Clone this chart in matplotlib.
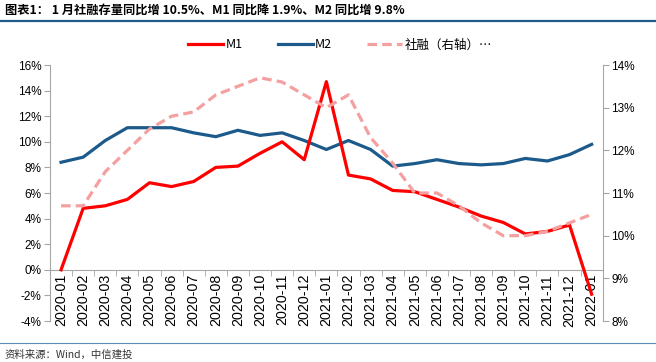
import numpy as np
import matplotlib
matplotlib.use('Agg')
import matplotlib.pyplot as plt
from matplotlib.lines import Line2D

plt.rcParams['font.family'] = ['Liberation Sans', 'Noto Sans CJK SC', 'DejaVu Sans']

months = ['2020-01', '2020-02', '2020-03', '2020-04', '2020-05', '2020-06',
          '2020-07', '2020-08', '2020-09', '2020-10', '2020-11', '2020-12',
          '2021-01', '2021-02', '2021-03', '2021-04', '2021-05', '2021-06',
          '2021-07', '2021-08', '2021-09', '2021-10', '2021-11', '2021-12',
          '2022-01']
m1 = [0.0, 4.8, 5.0, 5.5, 6.8, 6.5, 6.9, 8.0, 8.1, 9.1, 10.0, 8.6,
      14.7, 7.4, 7.1, 6.2, 6.1, 5.5, 4.9, 4.2, 3.7, 2.8, 3.0, 3.5, -1.9]
m2 = [8.4, 8.8, 10.1, 11.1, 11.1, 11.1, 10.7, 10.4, 10.9, 10.5, 10.7, 10.1,
      9.4, 10.1, 9.4, 8.1, 8.3, 8.6, 8.3, 8.2, 8.3, 8.7, 8.5, 9.0, 9.8]
tsf = [10.7, 10.7, 11.5, 12.0, 12.5, 12.8, 12.9, 13.3, 13.5, 13.7, 13.6, 13.3,
       13.0, 13.3, 12.3, 11.7, 11.0, 11.0, 10.7, 10.3, 10.0, 10.0, 10.1, 10.3, 10.5]

c_m1 = '#FF0000'
c_m2 = '#1B5A8A'
c_tsf = '#F4A0A0'
grey = '#A6A6A6'

fig = plt.figure(figsize=(6.56, 3.62), dpi=100)
ax = fig.add_axes([50/656, 1-321/362, (602.7-50)/656, (321-65)/362])
ax2 = ax.twinx()

# spines first (set_position resets tick styling)
for a in (ax, ax2):
    a.spines['top'].set_visible(False)
    for s in a.spines.values():
        s.set_color(grey)
ax.spines['right'].set_visible(False)
ax.spines['bottom'].set_position(('data', 0))
ax2.spines['left'].set_visible(False)
ax2.spines['bottom'].set_visible(False)
ax.patch.set_visible(False)

x = np.arange(len(months))
ax.plot(x, m1, color=c_m1, lw=2.3, zorder=3)
ax.plot(x, m2, color=c_m2, lw=2.3, zorder=2.5)
ax2.plot(x, tsf, color=c_tsf, lw=2.3, ls=(0, (3, 1.6)))

ax.set_xlim(-0.5, len(months) - 0.5)
ax.set_ylim(-4, 16)
ax.set_yticks(np.arange(-4, 17, 2))
ax.set_yticklabels(['%d%%' % v for v in range(-4, 17, 2)], fontsize=8.5)
ax2.set_ylim(8, 14)
ax2.set_yticks(np.arange(8, 15, 1))
ax2.set_yticklabels(['%d%%' % v for v in range(8, 15)], fontsize=8.5)

ax.set_xticks(x)
ax.set_xticks(np.arange(-0.5, len(months), 1), minor=True)
ax.set_xticklabels(months, rotation=90, fontsize=10.3)
ax.tick_params(axis='x', which='major', length=0, pad=3)
ax.tick_params(axis='x', which='minor', length=4, color=grey, direction='out')
ax.tick_params(axis='y', length=4, color=grey, pad=2)
ax2.tick_params(axis='y', length=4, color=grey, pad=2)

handles = [Line2D([], [], color=c_m1, lw=2.3),
           Line2D([], [], color=c_m2, lw=2.3),
           Line2D([], [], color=c_tsf, lw=2.3, ls=(0, (3, 1.6)))]
fig.legend(handles, ['M1', 'M2', '社融（右轴）…'], loc='center', ncol=3,
           bbox_to_anchor=(340/656, 1-45/362), frameon=False,
           prop={'family': ['Noto Sans CJK SC', 'DejaVu Sans'], 'size': 9},
           handlelength=2.8, handletextpad=0.2, columnspacing=2.8)

fig.text(5/656, 1-10/362, '图表1： 1 月社融存量同比增 10.5%、M1 同比降 1.9%、M2 同比增 9.8%',
         fontsize=8.8, fontweight='bold', va='center', ha='left',
         family=['Noto Sans CJK SC', 'DejaVu Sans'])
fig.add_artist(Line2D([0, 1], [1-21/362, 1-21/362], color='#1F5C8B', lw=1.6))
fig.add_artist(Line2D([0, 1], [1-343/362, 1-343/362], color='#5B8DB8', lw=0.8))
fig.text(5/656, 1-355/362, '资料来源：Wind，中信建投', fontsize=7.5, style='italic',
         color='#333333', va='center', ha='left',
         family=['Noto Sans CJK SC', 'DejaVu Sans'])

fig.savefig('out.png', dpi=100)
